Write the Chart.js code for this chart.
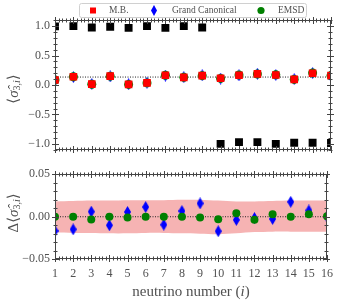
<!DOCTYPE html>
<html>
<head>
<meta charset="utf-8">
<script src="https://cdn.jsdelivr.net/npm/chart.js@4/dist/chart.umd.min.js"></script>
<style>
  body { margin: 0; background: #fff; }
  #wrap { position: relative; width: 340px; height: 304px; }
  #top { position: absolute; left: 0; top: 0; }
  #bot { position: absolute; left: 0; top: 162px; }
</style>
</head>
<body>
<div id="wrap">
  <canvas id="top" width="340" height="162"></canvas>
  <canvas id="bot" width="340" height="142"></canvas>
</div>
<script>
// data
const neutrinos = [1, 2, 3, 4, 5, 6, 7, 8, 9, 10, 11, 12, 13, 14, 15, 16];
const seriesNames = ['M.B.', 'Grand Canonical', 'EMSD'];

const blackTop = [0.995, 1.0, 0.975, 0.99, 0.97, 1.0, 0.97, 1.0, 0.975, -1.0, -0.97, -0.97, -1.0, -0.98, -0.98, -0.985];
const mbTop = [0.085, 0.14, 0.015, 0.15, 0.01, 0.035, 0.165, 0.13, 0.16, 0.115, 0.165, 0.19, 0.17, 0.095, 0.2, 0.16];
const gcTop = [0.08, 0.135, 0.018, 0.145, 0.013, 0.04, 0.16, 0.132, 0.165, 0.11, 0.163, 0.19, 0.17, 0.1, 0.203, 0.16];
const emsdTop = [0.085, 0.14, 0.012, 0.15, 0.01, 0.035, 0.165, 0.13, 0.158, 0.112, 0.17, 0.187, 0.173, 0.095, 0.203, 0.16];
const meanTop = 0.135;

const gcDelta = [-0.0166, -0.0148, 0.006, -0.010, 0.0056, 0.0114, -0.0094, 0.0067, 0.0157, -0.017, -0.0037, -0.0015, -0.0026, 0.0175, 0.0074, 0.0];
const emsdDelta = [0.0, 0.0, -0.0033, 0.0, -0.001, 0.0, 0.0, 0.0, -0.001, -0.003, 0.004, -0.0035, 0.003, 0.0, 0.003, 0.0007];
const bandUpper = [0.018, 0.0185, 0.019, 0.019, 0.0195, 0.0195, 0.0195, 0.020, 0.020, 0.019, 0.018, 0.018, 0.0185, 0.019, 0.019, 0.019];
const bandLower = [-0.0185, -0.019, -0.019, -0.0195, -0.0195, -0.019, -0.019, -0.0195, -0.020, -0.0205, -0.0195, -0.018, -0.0175, -0.0175, -0.0175, -0.0175];

const topTicks = [-1.0, -0.5, 0.0, 0.5, 1.0];
const botTicks = [-0.05, 0.0, 0.05];

const SERIF = '"Liberation Serif", "DejaVu Serif", serif';
const TEXT = '#505050';
const AXIS = '#444';

const pts = (ys) => neutrinos.map((x, i) => ({ x, y: ys[i] }));
const hline = (v) => [{ x: neutrinos[0], y: v }, { x: neutrinos[neutrinos.length - 1], y: v }];
const minus = (s) => s.replace('-', '\u2212');

function diamond(w, h, color) {
    const c = document.createElement('canvas');
    c.width = w;
    c.height = h;
    const g = c.getContext('2d');
    g.fillStyle = color;
    g.beginPath();
    g.moveTo(w / 2, 0);
    g.lineTo(w, h / 2);
    g.lineTo(w / 2, h);
    g.lineTo(0, h / 2);
    g.closePath();
    g.fill();
    return c;
}
const blueDiamond = diamond(7, 12, '#0000ff');

// frame with inout ticks on all four sides
function framePlugin(cfg) {
    return {
        id: 'frame',
        afterDraw(chart) {
            const { ctx, chartArea: a } = chart;
            const xs = chart.scales.x, ys = chart.scales.y;
            ctx.save();
            ctx.strokeStyle = AXIS;
            ctx.lineWidth = 1;
            const L = Math.round(a.left) + 0.5, R = Math.round(a.right) - 0.5;
            const T = Math.round(a.top) + 0.5, B = Math.round(a.bottom) - 0.5;
            ctx.strokeRect(L, T, R - L, B - T);
            const seg = (x1, y1, x2, y2) => { ctx.beginPath(); ctx.moveTo(x1, y1); ctx.lineTo(x2, y2); ctx.stroke(); };
            const minors = (min, max, step, majors) => {
                const out = [];
                for (let k = 0; min + k * step <= max + 1e-9; k++) {
                    const v = min + k * step;
                    if (!majors.some((m) => Math.abs(m - v) < 1e-9)) out.push(v);
                }
                return out;
            };
            const xTick = (v, len) => {
                const p = Math.round(xs.getPixelForValue(v)) + 0.5;
                seg(p, T - len, p, T + len);
                seg(p, B - len, p, B + len);
            };
            const yTick = (v, len) => {
                const p = Math.round(ys.getPixelForValue(v)) + 0.5;
                seg(L - len, p, L + len, p);
                seg(R - len, p, R + len, p);
            };
            neutrinos.forEach((v) => xTick(v, 3.5));
            minors(xs.min, xs.max, 0.2, neutrinos).forEach((v) => xTick(v, 2));
            cfg.yMajor.forEach((v) => yTick(v, 3.5));
            minors(ys.min, ys.max, cfg.yMinor, cfg.yMajor).forEach((v) => yTick(v, 2));
            ctx.restore();
        },
    };
}

// rotated y label: prefix + <sigma hat>_{3,i}
function yLabelPlugin(prefix, cx, cy) {
    return {
        id: 'ylabel',
        afterDraw(chart) {
            const ctx = chart.ctx;
            const parts = [
                { t: prefix + '\u27e8', f: '15px ' + SERIF, dy: 0 },
                { t: '\u03c3\u0302', f: 'italic 15px ' + SERIF, dy: 0 },
                { t: '3,', f: '10px ' + SERIF, dy: 3 },
                { t: 'i', f: 'italic 10px ' + SERIF, dy: 3 },
                { t: '\u27e9', f: '15px ' + SERIF, dy: 0 },
            ];
            ctx.save();
            let total = 0;
            parts.forEach((p) => { ctx.font = p.f; p.w = ctx.measureText(p.t).width; total += p.w; });
            ctx.translate(cx, cy);
            ctx.rotate(-Math.PI / 2);
            ctx.fillStyle = TEXT;
            ctx.textBaseline = 'middle';
            let x = -total / 2;
            parts.forEach((p) => { ctx.font = p.f; ctx.fillText(p.t, x, p.dy); x += p.w; });
            ctx.restore();
        },
    };
}

const legendPlugin = {
    id: 'boxlegend',
    afterDraw(chart) {
        const ctx = chart.ctx;
        ctx.save();
        ctx.fillStyle = '#fff';
        ctx.strokeStyle = '#d0d0d0';
        ctx.lineWidth = 1;
        ctx.beginPath();
        ctx.roundRect(79.5, 3.5, 227, 14, 2);
        ctx.fill();
        ctx.stroke();
        const cy = 10.5;
        ctx.fillStyle = '#ff0000';
        ctx.fillRect(90, cy - 3, 6, 6);
        ctx.drawImage(diamond(6, 11, '#0000ff'), 151, cy - 5.5);
        ctx.fillStyle = '#008000';
        ctx.beginPath();
        ctx.arc(261, cy, 3.6, 0, Math.PI * 2);
        ctx.fill();
        ctx.font = '9.5px ' + SERIF;
        ctx.fillStyle = TEXT;
        ctx.textBaseline = 'middle';
        ctx.fillText(seriesNames[0], 109, cy);
        ctx.fillText(seriesNames[1], 172, cy);
        ctx.fillText(seriesNames[2], 278, cy);
        ctx.restore();
    },
};

const xTitlePlugin = {
    id: 'xtitle',
    afterDraw(chart) {
        const ctx = chart.ctx;
        const parts = [
            { t: 'neutrino number (', f: '15px ' + SERIF },
            { t: 'i', f: 'italic 15px ' + SERIF },
            { t: ')', f: '15px ' + SERIF },
        ];
        ctx.save();
        let total = 0;
        parts.forEach((p) => { ctx.font = p.f; p.w = ctx.measureText(p.t).width; total += p.w; });
        let x = 191 - total / 2;
        ctx.fillStyle = TEXT;
        ctx.textBaseline = 'middle';
        parts.forEach((p) => { ctx.font = p.f; ctx.fillText(p.t, x, 130); x += p.w; });
        ctx.restore();
    },
};

const tickFont = { family: SERIF, size: 12 };

const topChart = new Chart(document.getElementById('top'), {
    type: 'scatter',
    data: {
        datasets: [
            { type: 'line', data: hline(meanTop), borderColor: '#222', borderWidth: 1, borderDash: [1, 1.5], pointRadius: 0, order: 9, clip: 0 },
            { data: pts(blackTop), backgroundColor: '#000', borderWidth: 0, pointStyle: 'rect', pointRadius: 5.6, order: 4, clip: 0 },
            { label: seriesNames[1], data: pts(gcTop), pointStyle: blueDiamond, order: 3, clip: 0 },
            { label: seriesNames[2], data: pts(emsdTop), backgroundColor: '#008000', borderWidth: 0, pointStyle: 'circle', pointRadius: 4.5, order: 2, clip: 0 },
            { label: seriesNames[0], data: pts(mbTop), backgroundColor: '#ff0000', borderWidth: 0, pointStyle: 'rect', pointRadius: 5.4, order: 1, clip: 0 },
        ],
    },
    options: {
        responsive: false,
        animation: false,
        devicePixelRatio: 1,
        layout: { padding: { left: 0, right: 9, top: 20.2, bottom: 0 } },
        plugins: { legend: { display: false }, tooltip: { enabled: false } },
        scales: {
            x: {
                type: 'linear', min: 1, max: 16,
                grid: { display: false, drawTicks: false }, border: { display: false },
                ticks: { display: false },
                afterFit: (s) => { s.height = 162 - 158.6; },
            },
            y: {
                min: -1.1, max: 1.1,
                grid: { display: false, drawTicks: false }, border: { display: false },
                ticks: { font: tickFont, color: TEXT, padding: 5, callback: (v) => minus(Number(v).toFixed(1)) },
                afterBuildTicks: (s) => { s.ticks = topTicks.map((v) => ({ value: v })); },
                afterFit: (s) => { s.width = 55; },
            },
        },
    },
    plugins: [framePlugin({ yMajor: topTicks, yMinor: 0.1 }), yLabelPlugin('', 14, 89), legendPlugin],
});

const botChart = new Chart(document.getElementById('bot'), {
    type: 'scatter',
    data: {
        datasets: [
            { type: 'line', data: pts(bandUpper), borderWidth: 0, pointRadius: 0, tension: 0.3, fill: '+1', backgroundColor: 'rgba(240,128,128,0.6)', order: 11, clip: 0 },
            { type: 'line', data: pts(bandLower), borderWidth: 0, pointRadius: 0, tension: 0.3, fill: false, order: 12, clip: 0 },
            { type: 'line', data: hline(0), borderColor: '#222', borderWidth: 1, borderDash: [1, 1.5], pointRadius: 0, order: 9, clip: 0 },
            { label: seriesNames[1], data: pts(gcDelta), pointStyle: blueDiamond, order: 3, clip: 0 },
            { label: seriesNames[2], data: pts(emsdDelta), backgroundColor: '#008000', borderWidth: 0, pointStyle: 'circle', pointRadius: 4, order: 2, clip: 0 },
        ],
    },
    options: {
        responsive: false,
        animation: false,
        devicePixelRatio: 1,
        layout: { padding: { left: 0, right: 9, top: 4.7, bottom: 0 } },
        plugins: { legend: { display: false }, tooltip: { enabled: false } },
        scales: {
            x: {
                type: 'linear', min: 1, max: 16,
                grid: { display: false, drawTicks: false }, border: { display: false },
                ticks: { font: tickFont, color: TEXT, padding: 7, autoSkip: false, maxRotation: 0 },
                afterBuildTicks: (s) => { s.ticks = neutrinos.map((v) => ({ value: v })); },
                afterFit: (s) => { s.height = 142 - 97.3; },
            },
            y: {
                min: -0.05, max: 0.05,
                grid: { display: false, drawTicks: false }, border: { display: false },
                ticks: { font: tickFont, color: TEXT, padding: 5, callback: (v) => minus(Number(v).toFixed(2)) },
                afterBuildTicks: (s) => { s.ticks = botTicks.map((v) => ({ value: v })); },
                afterFit: (s) => { s.width = 55; },
            },
        },
    },
    plugins: [framePlugin({ yMajor: botTicks, yMinor: 0.01 }), yLabelPlugin('\u0394', 14, 51), xTitlePlugin],
});
</script>
</body>
</html>
